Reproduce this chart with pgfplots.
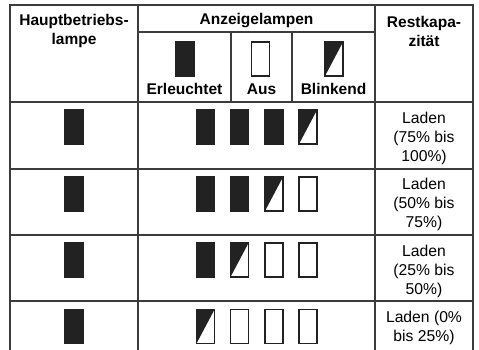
\documentclass[border=0pt]{standalone}
\usepackage{fontspec}
\setmainfont{Liberation Sans}
\usepackage{pgfplots}
\pgfplotsset{compat=1.18}
\definecolor{lampdark}{HTML}{222222}
\definecolor{gridc}{HTML}{3C3C3C}
\tikzset{
  cell/.style={align=center, inner sep=0pt, font=\fontsize{15.7}{19}\selectfont},
  hcell/.style={align=center, inner sep=0pt, font=\fontsize{15.5}{19}\selectfont\bfseries},
}
\pgfdeclareplotmark{lampon}{%
  \pgfpathrectangle{\pgfpoint{-9pt}{-17pt}}{\pgfpoint{18pt}{34pt}}%
  \pgfusepathqfillstroke}
\pgfdeclareplotmark{lampoff}{%
  \pgfpathrectangle{\pgfpoint{-9pt}{-17pt}}{\pgfpoint{18pt}{34pt}}%
  \pgfusepathqstroke}
\pgfdeclareplotmark{lampblink}{%
  \pgfpathmoveto{\pgfpoint{-9pt}{-17pt}}%
  \pgfpathlineto{\pgfpoint{-9pt}{17pt}}%
  \pgfpathlineto{\pgfpoint{9pt}{17pt}}%
  \pgfpathclose
  \pgfusepathqfill
  \pgfpathrectangle{\pgfpoint{-9pt}{-17pt}}{\pgfpoint{18pt}{34pt}}%
  \pgfusepathqstroke}
\begin{document}
\begin{tikzpicture}
\begin{axis}[
  scale only axis, width=479pt, height=350pt,
  xmin=0, xmax=479, ymin=0, ymax=350, y dir=reverse,
  hide axis, clip=false,
]
% background
\addplot[fill=white, draw=none] coordinates {(0,0) (479,0) (479,350) (0,350)} -- cycle;
% table grid
\addplot[gridc, line width=1.6pt] coordinates {(10,350) (10,5) (473,5) (473,350)};
\addplot[gridc, line width=1.4pt] coordinates {(138,5) (138,350)};
\addplot[gridc, line width=1.4pt] coordinates {(375,5) (375,350)};
\addplot[gridc, line width=1.4pt] coordinates {(138,32) (375,32)};
\addplot[gridc, line width=1.4pt] coordinates {(231,32) (231,102)};
\addplot[gridc, line width=1.4pt] coordinates {(292,32) (292,102)};
\addplot[gridc, line width=1.4pt] coordinates {(10,102) (473,102)};
\addplot[gridc, line width=1.4pt] coordinates {(10,169) (473,169)};
\addplot[gridc, line width=1.4pt] coordinates {(10,235) (473,235)};
\addplot[gridc, line width=1.4pt] coordinates {(10,301) (473,301)};
% lamps: lit
\addplot[only marks, mark=lampon, mark options={fill=lampdark, draw=lampdark, line width=1.2pt}] coordinates {
  (185,59)
  (74,127) (205.5,127) (239.5,127) (274,127)
  (74,194) (205.5,194) (239.5,194)
  (74,260) (205.5,260)
  (74,326.5)
};
% lamps: off
\addplot[only marks, mark=lampoff, mark options={fill=white, draw=lampdark, line width=1.2pt}] coordinates {
  (260.5,59)
  (308,194)
  (274,260) (308,260)
  (239.5,326.5) (274,326.5) (308,326.5)
};
% lamps: blinking
\addplot[only marks, mark=lampblink, mark options={fill=lampdark, draw=lampdark, line width=1.2pt}] coordinates {
  (334,59)
  (308,127)
  (274,194)
  (239.5,260)
  (205.5,326.5)
};
% header text
\node[hcell] at (axis cs:74,31) {Hauptbetriebs-\\lampe};
\node[hcell] at (axis cs:256.5,21) {Anzeigelampen};
\node[hcell] at (axis cs:424,31) {Restkapa-\\zität};
\node[hcell] at (axis cs:184.5,89) {Erleuchtet};
\node[hcell] at (axis cs:261.5,89) {Aus};
\node[hcell] at (axis cs:333.5,89) {Blinkend};
% capacity text
\node[cell] at (axis cs:424,138) {Laden\\(75\% bis\\100\%)};
\node[cell] at (axis cs:424,204) {Laden\\(50\% bis\\75\%)};
\node[cell] at (axis cs:424,271) {Laden\\(25\% bis\\50\%)};
\node[cell] at (axis cs:424,327.5) {Laden (0\%\\bis 25\%)};
\end{axis}
\pgfresetboundingbox
\path[use as bounding box] (current axis.south west) rectangle (current axis.north east);
\end{tikzpicture}
\end{document}
